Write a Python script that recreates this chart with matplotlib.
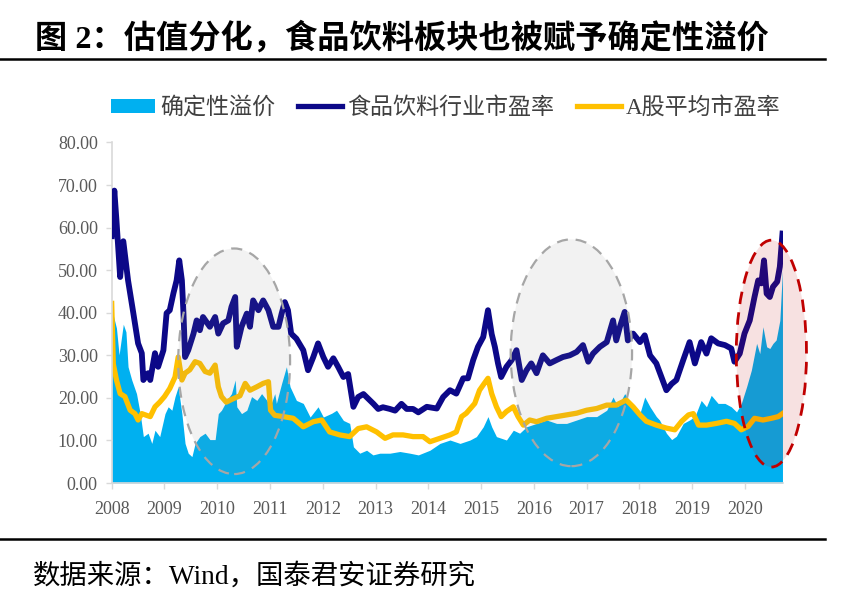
import matplotlib
matplotlib.use("Agg")
import matplotlib.pyplot as plt
from matplotlib.patches import Ellipse, Patch
from matplotlib.lines import Line2D

# ---------------- data ----------------
food_x = [2008.00, 2008.05, 2008.09, 2008.16, 2008.22, 2008.31, 2008.41, 2008.50, 2008.57, 2008.60,
          2008.69, 2008.73, 2008.82, 2008.88, 2008.98, 2009.04, 2009.10, 2009.17, 2009.23, 2009.28,
          2009.33, 2009.36, 2009.39, 2009.45, 2009.55, 2009.61, 2009.67, 2009.73, 2009.86, 2009.96,
          2010.02, 2010.11, 2010.21, 2010.27, 2010.34, 2010.37, 2010.46, 2010.56, 2010.62, 2010.68,
          2010.78, 2010.87, 2010.97, 2011.06, 2011.16, 2011.22, 2011.28, 2011.34, 2011.40, 2011.50,
          2011.63, 2011.72, 2011.82, 2011.91, 2012.01, 2012.10, 2012.20, 2012.29, 2012.39, 2012.48,
          2012.58, 2012.67, 2012.77, 2012.86, 2012.96, 2013.05, 2013.14, 2013.27, 2013.37, 2013.49,
          2013.59, 2013.71, 2013.81, 2013.97, 2014.16, 2014.28, 2014.41, 2014.53, 2014.66, 2014.75,
          2014.85, 2014.94, 2015.04, 2015.13, 2015.20, 2015.26, 2015.32, 2015.38, 2015.48, 2015.58,
          2015.67, 2015.77, 2015.86, 2015.95, 2016.05, 2016.17, 2016.30, 2016.43, 2016.55, 2016.68,
          2016.81, 2016.93, 2017.03, 2017.12, 2017.25, 2017.38, 2017.50, 2017.56, 2017.63, 2017.72,
          2017.78, 2017.88, 2018.01, 2018.10, 2018.20, 2018.32, 2018.51, 2018.61, 2018.70, 2018.83,
          2018.95, 2019.05, 2019.17, 2019.27, 2019.36, 2019.49, 2019.62, 2019.74, 2019.80, 2019.90,
          2019.99, 2020.09, 2020.18, 2020.25, 2020.31, 2020.36, 2020.41, 2020.47, 2020.53, 2020.61,
          2020.66, 2020.71]
food_pe = [58.0, 68.7, 61.7, 48.4, 56.8, 47.6, 39.9, 32.8, 30.5, 24.2,
           25.8, 24.2, 30.5, 27.3, 31.2, 39.9, 40.6, 44.6, 47.6, 52.3,
           47.6, 39.9, 29.6, 31.2, 35.1, 38.2, 35.9, 39.0, 36.7, 39.0,
           35.1, 37.5, 38.2, 41.4, 43.7, 32.0, 36.7, 39.8, 36.7, 42.9,
           40.6, 42.9, 40.6, 36.7, 36.7, 39.8, 42.5, 40.6, 35.1, 33.9,
           31.2, 26.5, 29.6, 32.8, 29.6, 27.3, 29.3, 27.3, 24.9, 25.6,
           17.9, 20.2, 20.9, 19.8, 18.6, 17.4, 17.8, 17.4, 17.0, 18.6,
           17.4, 17.4, 16.6, 17.9, 17.5, 20.2, 21.8, 21.0, 24.6, 24.6,
           28.9, 32.0, 34.3, 40.6, 35.0, 32.0, 28.1, 24.9, 27.3, 28.9,
           31.2, 24.2, 26.5, 28.1, 25.8, 30.0, 28.1, 28.9, 29.6, 30.0,
           30.8, 32.4, 28.5, 30.4, 32.0, 33.1, 38.2, 33.5, 36.7, 40.2,
           33.5, 35.1, 33.1, 34.7, 30.0, 28.1, 21.8, 23.3, 24.2, 28.9,
           33.1, 28.1, 33.1, 30.4, 34.0, 32.8, 32.4, 31.6, 28.5, 30.4,
           35.1, 38.2, 43.7, 47.6, 46.9, 52.3, 44.5, 43.7, 46.1, 47.3,
           50.8, 58.6]

ashare_x = [2008.00, 2008.03, 2008.09, 2008.16, 2008.25, 2008.35, 2008.44, 2008.50, 2008.57, 2008.66,
            2008.73, 2008.82, 2008.91, 2009.00, 2009.10, 2009.20, 2009.26, 2009.33, 2009.39, 2009.48,
            2009.58, 2009.67, 2009.77, 2009.86, 2009.96, 2010.02, 2010.08, 2010.17, 2010.30, 2010.43,
            2010.53, 2010.62, 2010.75, 2010.87, 2010.97, 2011.01, 2011.09, 2011.25, 2011.44, 2011.63,
            2011.82, 2011.98, 2012.13, 2012.32, 2012.51, 2012.67, 2012.83, 2013.02, 2013.18, 2013.33,
            2013.52, 2013.71, 2013.90, 2014.03, 2014.22, 2014.41, 2014.53, 2014.63, 2014.72, 2014.88,
            2014.97, 2015.06, 2015.13, 2015.20, 2015.29, 2015.38, 2015.48, 2015.61, 2015.70, 2015.80,
            2015.92, 2016.05, 2016.24, 2016.43, 2016.62, 2016.81, 2017.00, 2017.19, 2017.38, 2017.56,
            2017.75, 2017.88, 2018.01, 2018.13, 2018.32, 2018.51, 2018.67, 2018.80, 2018.93, 2019.02,
            2019.12, 2019.27, 2019.46, 2019.65, 2019.80, 2019.93, 2020.06, 2020.18, 2020.34, 2020.50,
            2020.63, 2020.71]
ashare_pe = [42.2, 28.0, 24.2, 21.0, 20.3, 17.1, 16.3, 14.8, 16.3, 15.9,
             15.6, 17.9, 19.0, 20.3, 22.2, 24.9, 29.6, 24.2, 25.8, 26.6,
             28.5, 28.1, 26.2, 25.8, 27.7, 22.6, 20.3, 19.0, 19.8, 20.5,
             23.4, 21.8, 22.6, 23.4, 23.8, 17.1, 15.9, 15.6, 15.2, 13.2,
             14.4, 14.8, 12.0, 11.3, 10.9, 12.8, 13.2, 12.0, 10.5, 11.3,
             11.3, 10.9, 10.9, 9.7, 10.5, 11.3, 12.0, 15.6, 16.4, 18.7,
             21.8, 23.4, 24.6, 21.0, 17.9, 15.6, 16.8, 17.9, 15.6, 13.6,
             14.8, 14.4, 15.2, 15.6, 16.0, 16.4, 17.1, 17.5, 18.3, 18.3,
             19.5, 17.9, 16.0, 14.5, 13.6, 12.9, 12.5, 14.5, 16.0, 16.3,
             13.6, 13.6, 14.0, 14.5, 14.0, 12.5, 13.3, 15.2, 14.8, 15.2,
             15.6, 16.3]

premium_x = [2008.00, 2008.02, 2008.09, 2008.14, 2008.22, 2008.27, 2008.31, 2008.38, 2008.47, 2008.54,
             2008.60, 2008.69, 2008.76, 2008.82, 2008.91, 2009.01, 2009.07, 2009.14, 2009.20, 2009.26,
             2009.33, 2009.39, 2009.45, 2009.52, 2009.58, 2009.67, 2009.77, 2009.86, 2009.96, 2010.02,
             2010.08, 2010.18, 2010.27, 2010.34, 2010.37, 2010.46, 2010.56, 2010.65, 2010.75, 2010.84,
             2010.94, 2011.00, 2011.09, 2011.12, 2011.22, 2011.31, 2011.38, 2011.50, 2011.63, 2011.76,
             2011.91, 2012.01, 2012.17, 2012.26, 2012.39, 2012.51, 2012.58, 2012.70, 2012.83, 2012.95,
             2013.08, 2013.27, 2013.46, 2013.65, 2013.81, 2014.03, 2014.22, 2014.41, 2014.60, 2014.79,
             2014.91, 2015.04, 2015.13, 2015.20, 2015.29, 2015.48, 2015.61, 2015.73, 2015.86, 2016.05,
             2016.24, 2016.43, 2016.62, 2016.81, 2017.00, 2017.19, 2017.38, 2017.50, 2017.59, 2017.72,
             2017.88, 2018.01, 2018.10, 2018.20, 2018.32, 2018.38, 2018.51, 2018.61, 2018.70, 2018.83,
             2018.95, 2019.05, 2019.17, 2019.27, 2019.36, 2019.49, 2019.62, 2019.74, 2019.84, 2019.93,
             2020.03, 2020.12, 2020.22, 2020.28, 2020.34, 2020.41, 2020.47, 2020.53, 2020.59, 2020.66,
             2020.71]
premium = [28.0, 39.9, 36.4, 30.1, 37.3, 35.5, 27.3, 24.2, 21.0, 16.3,
           10.9, 11.7, 9.3, 12.4, 10.9, 16.3, 17.9, 17.1, 20.3, 22.6,
           16.3, 9.3, 7.0, 6.2, 9.3, 10.9, 11.7, 10.2, 10.2, 16.3,
           17.1, 19.4, 21.0, 24.2, 17.9, 16.3, 17.1, 20.3, 19.4, 21.0,
           19.4, 17.9, 21.0, 18.7, 23.4, 27.3, 22.6, 19.4, 18.7, 15.5,
           17.9, 15.5, 16.4, 17.1, 14.7, 14.0, 8.5, 7.0, 7.7, 6.6,
           7.0, 7.0, 7.4, 7.0, 6.6, 7.7, 9.3, 10.1, 9.3, 10.1,
           10.9, 13.2, 15.6, 13.2, 10.9, 10.1, 12.4, 11.7, 13.2, 14.0,
           14.8, 14.0, 14.0, 14.8, 15.6, 15.6, 17.1, 20.2, 17.9, 21.0,
           17.9, 16.4, 20.2, 17.9, 15.6, 14.8, 11.7, 10.2, 11.0, 14.0,
           14.8, 15.6, 19.4, 17.9, 20.6, 18.7, 18.7, 17.9, 16.7, 18.7,
           22.6, 26.5, 32.8, 30.4, 36.7, 32.0, 31.6, 32.8, 33.6, 38.2,
           50.0]

years = list(range(2008, 2021))
y_ticks = [0, 10, 20, 30, 40, 50, 60, 70, 80]
series_names = ["确定性溢价", "食品饮料行业市盈率", "A股平均市盈率"]

# highlighted periods: (x centre, y centre, width, height)
grey_marks = [(2010.32, 28.6, 2.12, 53.0), (2016.71, 30.6, 2.30, 53.3)]
red_mark = (2020.50, 30.4, 1.33, 53.3)

# ---------------- styling ----------------
C_AREA = "#00B0F0"
C_NAVY = "#0C0888"
C_GOLD = "#FFC000"
SERIF_CJK = ["Liberation Serif", "Noto Sans CJK SC"]

fig = plt.figure(figsize=(8.52, 5.98), dpi=100)
W, H = 852, 598
ax = fig.add_axes([111.7 / W, 1 - 483 / H, (783 - 111.7) / W, (483 - 142.5) / H])

ax.fill_between(premium_x, premium, 0, color=C_AREA, lw=0, zorder=1)
ax.plot(ashare_x, ashare_pe, color=C_GOLD, lw=3.8, solid_joinstyle="round", zorder=2)
ax.plot(food_x, food_pe, color=C_NAVY, lw=4.2, solid_joinstyle="round", zorder=3)

for (cx, cy, w, h) in grey_marks:
    ax.add_patch(Ellipse((cx, cy), w, h, facecolor=(0.5, 0.5, 0.5, 0.10), edgecolor="none", zorder=4))
    ax.add_patch(Ellipse((cx, cy), w, h, facecolor="none", edgecolor="#A6A6A6", lw=1.6,
                         linestyle=(0, (5, 3.5)), zorder=5))
cx, cy, w, h = red_mark
ax.add_patch(Ellipse((cx, cy), w, h, facecolor=(0.75, 0.0, 0.0, 0.118), edgecolor="none",
                     zorder=4, clip_on=False))
ax.add_patch(Ellipse((cx, cy), w, h, facecolor="none", edgecolor="#C00000", lw=2.0,
                     linestyle=(0, (4.5, 3)), zorder=5, clip_on=False))

ax.set_xlim(2008, 2020.72)
ax.set_ylim(0, 80)
ax.set_xticks(years)
ax.set_xticklabels([str(y) for y in years])
ax.set_yticks(y_ticks)
ax.set_yticklabels([f"{v:.2f}" for v in y_ticks])
for s in ["top", "right"]:
    ax.spines[s].set_visible(False)
for s in ["left", "bottom"]:
    ax.spines[s].set_color("#D9D9D9")
    ax.spines[s].set_linewidth(1.2)
ax.tick_params(axis="both", colors="#D9D9D9", labelcolor="#595959", length=4, width=1.0)
ax.tick_params(axis="x", pad=9)
ax.tick_params(axis="y", pad=6)
for lab in ax.get_xticklabels() + ax.get_yticklabels():
    lab.set_fontfamily("Liberation Serif")
    lab.set_fontsize(13)

# legend
handles = [Patch(facecolor=C_AREA, edgecolor="none"),
           Line2D([0], [0], color=C_NAVY, lw=3.8),
           Line2D([0], [0], color=C_GOLD, lw=3.8)]
leg = fig.legend(handles, series_names, loc="center left", bbox_to_anchor=(111 / W, 1 - 108 / H),
                 ncol=3, frameon=False, borderpad=0, borderaxespad=0, handlelength=1.9,
                 handleheight=0.55, handletextpad=0.22, columnspacing=1.0,
                 prop={"family": SERIF_CJK, "size": 16.6})
for t in leg.get_texts():
    t.set_color("#404040")

# title, rules and source
fig.text(35 / W, 1 - 38 / H, "图 2：估值分化，食品饮料板块也被赋予确定性溢价",
         fontsize=23.2, fontweight="bold", family=SERIF_CJK, va="center", ha="left", color="black")
fig.add_artist(Line2D([0, 825 / W], [1 - 59 / H, 1 - 59 / H], color="black", lw=1.8))
fig.add_artist(Line2D([0, 825 / W], [1 - 539 / H, 1 - 539 / H], color="black", lw=1.8))
fig.text(33 / W, 1 - 576 / H, "数据来源：Wind，国泰君安证券研究",
         fontsize=19.7, family=SERIF_CJK, va="center", ha="left", color="black")

fig.savefig("out.png", dpi=100)
